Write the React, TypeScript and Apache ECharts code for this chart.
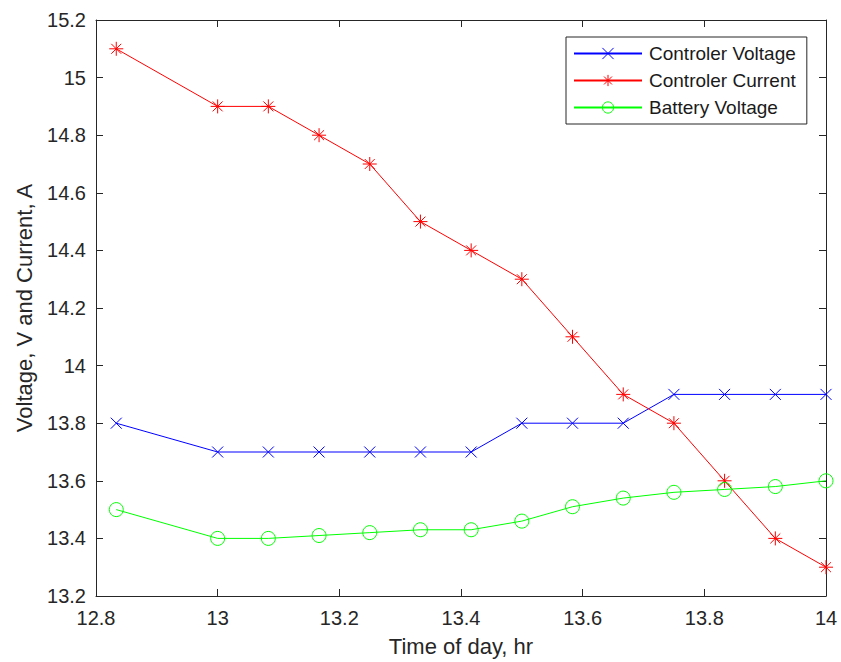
import React, { useEffect, useRef } from "react";
import * as echarts from "echarts";

const times = [12.8333, 13, 13.0833, 13.1667, 13.25, 13.3333, 13.4167, 13.5, 13.5833, 13.6667, 13.75, 13.8333, 13.9167, 14];
const controllerVoltage = [13.8, 13.7, 13.7, 13.7, 13.7, 13.7, 13.7, 13.8, 13.8, 13.8, 13.9, 13.9, 13.9, 13.9];
const controllerCurrent = [15.1, 14.9, 14.9, 14.8, 14.7, 14.5, 14.4, 14.3, 14.1, 13.9, 13.8, 13.6, 13.4, 13.3];
const batteryVoltage = [13.5, 13.4, 13.4, 13.41, 13.42, 13.43, 13.43, 13.46, 13.51, 13.54, 13.56, 13.57, 13.58, 13.6];
const seriesNames = ["Controler Voltage", "Controler Current", "Battery Voltage"];

const FONT = '"Liberation Sans", Arial, Helvetica, sans-serif';
const AX = "#262626";

const CROSS = "path://M0 0L10 10M10 0L0 10";
const STAR = "path://M0 5L10 5M5 0L5 10M1.46 1.46L8.54 8.54M8.54 1.46L1.46 8.54";

const pairs = (ys: number[]) => times.map((t, i) => [t, ys[i]]);

export default function App() {
  const ref = useRef<HTMLDivElement>(null);
  useEffect(() => {
    if (!ref.current) return;
    const chart = echarts.init(ref.current, null, { renderer: "svg" });
    const fmt = (v: number) => String(Math.round(v * 10) / 10);
    const baseX = {
      type: "value",
      min: 12.8,
      max: 14,
      interval: 0.2,
      splitLine: { show: false },
      axisLine: { show: true, onZero: false, lineStyle: { color: AX, width: 1 } },
      axisTick: { show: true, inside: true, length: 7, lineStyle: { color: AX } },
    };
    const baseY = {
      type: "value",
      min: 13.2,
      max: 15.2,
      interval: 0.2,
      splitLine: { show: false },
      axisLine: { show: true, onZero: false, lineStyle: { color: AX, width: 1 } },
      axisTick: { show: true, inside: true, length: 7, lineStyle: { color: AX } },
    };
    chart.setOption({
      animation: false,
      backgroundColor: "#fff",
      textStyle: { fontFamily: FONT },
      grid: { left: 96, right: 15, top: 20, bottom: 65, containLabel: false },
      legend: {
        data: seriesNames,
        orient: "vertical",
        left: 566,
        top: 37,
        padding: [7, 11, 7, 7],
        itemWidth: 68,
        itemHeight: 14,
        itemGap: 8,
        borderColor: AX,
        borderWidth: 1,
        backgroundColor: "#fff",
        selectedMode: false,
        itemStyle: { borderWidth: 1 },
        textStyle: { fontSize: 19, color: "#1a1a1a", fontFamily: FONT, padding: [0, 0, 0, 2] },
      },
      xAxis: [
        {
          ...baseX,
          position: "bottom",
          name: "Time of day, hr",
          nameLocation: "middle",
          nameGap: 39,
          nameTextStyle: { fontSize: 22, color: AX, fontFamily: FONT },
          axisLabel: { fontSize: 20, color: AX, margin: 12, formatter: fmt, fontFamily: FONT },
        },
        { ...baseX, position: "top", axisLabel: { show: false } },
      ],
      yAxis: [
        {
          ...baseY,
          position: "left",
          name: "Voltage, V and Current, A",
          nameLocation: "middle",
          nameGap: 61,
          nameTextStyle: { fontSize: 22, color: AX, fontFamily: FONT },
          axisLabel: { fontSize: 20, color: AX, margin: 10, formatter: fmt, fontFamily: FONT },
        },
        { ...baseY, position: "right", axisLabel: { show: false } },
      ],
      series: [
        {
          name: seriesNames[0],
          type: "line",
          data: pairs(controllerVoltage),
          symbol: CROSS,
          symbolSize: 11,
          lineStyle: { color: "#0000ff", width: 1 },
          itemStyle: { color: "none", borderColor: "#0000ff", borderWidth: 1 },
        },
        {
          name: seriesNames[1],
          type: "line",
          data: pairs(controllerCurrent),
          symbol: STAR,
          symbolSize: 14,
          lineStyle: { color: "#ff0000", width: 1 },
          itemStyle: { color: "none", borderColor: "#ff0000", borderWidth: 1 },
        },
        {
          name: seriesNames[2],
          type: "line",
          data: pairs(batteryVoltage),
          symbol: "circle",
          symbolSize: 14,
          lineStyle: { color: "#00ff00", width: 1 },
          itemStyle: { color: "none", borderColor: "#00ff00", borderWidth: 1 },
        },
      ],
    });
    return () => chart.dispose();
  }, []);
  return <div ref={ref} style={{ position: "absolute", left: 0, top: 0, width: 841, height: 662 }} />;
}
